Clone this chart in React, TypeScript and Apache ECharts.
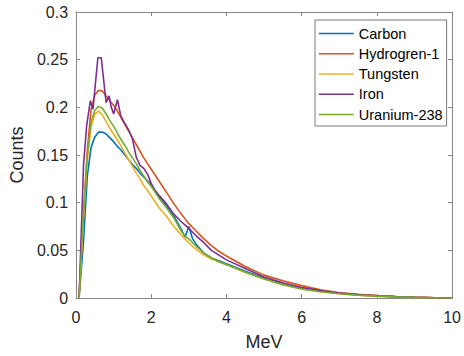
import React, { useEffect, useRef } from "react";
import * as echarts from "echarts";

const seriesNames = ["Carbon", "Hydrogren-1", "Tungsten", "Iron", "Uranium-238"];
const colors = ["#0072BD", "#D95319", "#EDB120", "#7E2F8E", "#77AC30"];

const xTicks = [0, 2, 4, 6, 8, 10];
const yTicks = [0, 0.05, 0.1, 0.15, 0.2, 0.25, 0.3];

const xGrid = [0.08, 0.2, 0.3, 0.4, 0.5, 0.6, 0.7, 0.8, 0.9, 1.0, 1.1, 1.2, 1.3, 1.4, 1.5, 1.6, 1.7, 1.8, 1.9, 2.0, 2.1, 2.2, 2.4, 2.6, 2.8, 2.9, 3.0, 3.1, 3.2, 3.4, 3.6, 3.8, 4.0, 4.5, 5.0, 5.5, 6.0, 6.5, 7.0, 7.5, 8.0, 8.5, 9.0, 9.5, 10.0];

const carbon = [0, 0.06, 0.128, 0.158, 0.169, 0.174, 0.174, 0.172, 0.168, 0.164, 0.159, 0.155, 0.150, 0.145, 0.140, 0.136, 0.131, 0.127, 0.123, 0.119, 0.112, 0.107, 0.097, 0.086, 0.072, 0.064, 0.075, 0.062, 0.056, 0.047, 0.042, 0.039, 0.036, 0.028, 0.021, 0.015, 0.0105, 0.0075, 0.005, 0.0033, 0.0022, 0.0013, 0.0007, 0.0003, 0];

const hydrogen = [0, 0.09, 0.155, 0.198, 0.213, 0.218, 0.217, 0.212, 0.207, 0.202, 0.196, 0.189, 0.182, 0.175, 0.168, 0.161, 0.154, 0.147, 0.141, 0.135, 0.129, 0.123, 0.111, 0.099, 0.088, 0.083, 0.078, 0.074, 0.070, 0.062, 0.055, 0.049, 0.044, 0.033, 0.024, 0.018, 0.013, 0.0085, 0.0055, 0.0038, 0.0026, 0.0016, 0.0009, 0.0004, 0];

const tungsten = [0, 0.085, 0.145, 0.180, 0.193, 0.196, 0.192, 0.185, 0.178, 0.172, 0.166, 0.159, 0.152, 0.145, 0.138, 0.131, 0.125, 0.118, 0.113, 0.107, 0.101, 0.095, 0.086, 0.075, 0.066, 0.062, 0.058, 0.054, 0.051, 0.045, 0.041, 0.038, 0.035, 0.027, 0.020, 0.014, 0.0095, 0.0065, 0.0045, 0.003, 0.002, 0.0012, 0.0007, 0.0003, 0];

const uranium = [0, 0.09, 0.15, 0.185, 0.197, 0.201, 0.199, 0.193, 0.186, 0.180, 0.173, 0.166, 0.160, 0.153, 0.147, 0.141, 0.134, 0.128, 0.122, 0.117, 0.111, 0.105, 0.095, 0.084, 0.070, 0.065, 0.062, 0.058, 0.054, 0.047, 0.042, 0.038, 0.035, 0.027, 0.020, 0.014, 0.0095, 0.0065, 0.0045, 0.003, 0.002, 0.0012, 0.0007, 0.0003, 0];

const xIron = [0.08, 0.2, 0.28, 0.38, 0.45, 0.58, 0.67, 0.8, 0.88, 0.93, 1.0, 1.1, 1.19, 1.3, 1.4, 1.5, 1.6, 1.7, 1.8, 1.9, 2.0, 2.1, 2.2, 2.4, 2.6, 2.8, 3.0, 3.2, 3.4, 3.6, 3.8, 4.0, 4.5, 5.0, 5.5, 6.0, 6.5, 7.0, 7.5, 8.0, 8.5, 9.0, 9.5, 10];

const iron = [0, 0.14, 0.18, 0.207, 0.198, 0.252, 0.252, 0.205, 0.212, 0.201, 0.193, 0.208, 0.191, 0.183, 0.176, 0.167, 0.148, 0.139, 0.136, 0.130, 0.120, 0.113, 0.108, 0.099, 0.088, 0.080, 0.073, 0.065, 0.058, 0.050, 0.045, 0.040, 0.031, 0.022, 0.016, 0.011, 0.0078, 0.0052, 0.0035, 0.0023, 0.0014, 0.0008, 0.0003, 0];

const seriesX = [xGrid, xGrid, xGrid, xIron, xGrid];
const seriesY = [carbon, hydrogen, tungsten, iron, uranium];

export default function App() {
  const ref = useRef<HTMLDivElement>(null);
  useEffect(() => {
    const chart = echarts.init(ref.current!, null, { renderer: "svg" });
    const font = "'Liberation Sans', Arial, Helvetica, sans-serif";
    const axisColor = "#868686";
    const textColor = "#262626";
    const zip = (xs: number[], ys: number[]) => xs.map((x, i) => [x, ys[i]]);
    const xMin = xTicks[0];
    const xMax = xTicks[xTicks.length - 1];
    const xInt = xTicks[1] - xTicks[0];
    const yMin = yTicks[0];
    const yMax = yTicks[yTicks.length - 1];
    const yInt = yTicks[1] - yTicks[0];
    const baseAxisLine = { show: true, onZero: false, lineStyle: { color: axisColor, width: 1 } };
    const baseTick = { show: true, inside: true, length: 4, lineStyle: { color: axisColor, width: 1 } };
    chart.setOption({
      animation: false,
      color: colors,
      backgroundColor: "#ffffff",
      textStyle: { fontFamily: font },
      grid: { left: 71, right: 8, top: 12, bottom: 51, containLabel: false },
      legend: {
        show: true,
        orient: "vertical",
        left: 315,
        top: 20,
        data: seriesNames,
        itemWidth: 35,
        itemHeight: 14,
        itemGap: 5.25,
        padding: [6, 4, 4, 3],
        borderColor: "#7a7a7a",
        borderWidth: 1,
        borderRadius: 0,
        backgroundColor: "#ffffff",
        itemStyle: { opacity: 0, borderWidth: 0 },
        lineStyle: { width: 1.6 },
        textStyle: { fontFamily: font, fontSize: 14.5, color: "#000000" },
      },
      xAxis: [
        {
          type: "value",
          min: xMin,
          max: xMax,
          interval: xInt,
          position: "bottom",
          name: "MeV",
          nameLocation: "middle",
          nameGap: 35,
          nameTextStyle: { fontSize: 18, color: textColor, fontFamily: font },
          axisLine: baseAxisLine,
          axisTick: baseTick,
          axisLabel: { fontSize: 16, color: textColor, margin: 11, fontFamily: font },
          splitLine: { show: false },
        },
        {
          type: "value",
          min: xMin,
          max: xMax,
          interval: xInt,
          position: "top",
          axisLine: baseAxisLine,
          axisTick: baseTick,
          axisLabel: { show: false },
          splitLine: { show: false },
        },
      ],
      yAxis: [
        {
          type: "value",
          min: yMin,
          max: yMax,
          interval: yInt,
          position: "left",
          name: "Counts",
          nameLocation: "middle",
          nameGap: 42,
          nameTextStyle: { fontSize: 18, color: textColor, fontFamily: font },
          axisLine: baseAxisLine,
          axisTick: baseTick,
          axisLabel: { fontSize: 16, color: textColor, margin: 8, fontFamily: font },
          splitLine: { show: false },
        },
        {
          type: "value",
          min: yMin,
          max: yMax,
          interval: yInt,
          position: "right",
          axisLine: baseAxisLine,
          axisTick: baseTick,
          axisLabel: { show: false },
          splitLine: { show: false },
        },
      ],
      series: seriesNames.map((name, i) => ({
        name,
        type: "line",
        xAxisIndex: 0,
        yAxisIndex: 0,
        symbol: "none",
        showSymbol: false,
        smooth: false,
        lineStyle: { width: 1.6, color: colors[i] },
        itemStyle: { color: colors[i] },
        data: zip(seriesX[i], seriesY[i]),
      })),
    });
    return () => chart.dispose();
  }, []);
  return (
    <div
      ref={ref}
      style={{ position: "fixed", left: 0, top: 0, width: 464, height: 356 }}
    />
  );
}
